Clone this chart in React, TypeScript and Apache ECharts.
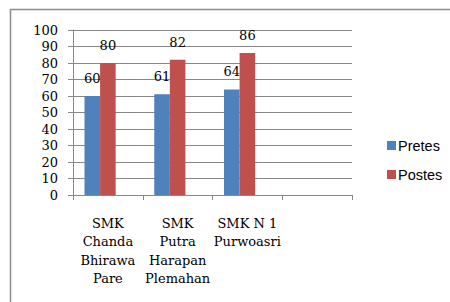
import React, { useEffect, useRef } from "react";
import * as echarts from "echarts";

const categories = ["SMK\nChanda\nBhirawa\nPare", "SMK\nPutra\nHarapan\nPlemahan", "SMK N 1\nPurwoasri", ""];
const pretes = [60, 61, 64, null];
const postes = [80, 82, 86, null];
const spare = [null, null, null, null];

export default function App() {
  const ref = useRef<HTMLDivElement>(null);
  useEffect(() => {
    const chart = echarts.init(ref.current!, null, { renderer: "svg" });
    const serif = "DejaVu Serif";
    chart.setOption({
      animation: false,
      backgroundColor: "#fff",
      graphic: [
        { type: "line", shape: { x1: 10, y1: 9.5, x2: 450, y2: 9.5 }, style: { stroke: "#8c8c8c", lineWidth: 1.5 } },
        { type: "line", shape: { x1: 10.5, y1: 9, x2: 10.5, y2: 302 }, style: { stroke: "#8c8c8c", lineWidth: 1.5 } },
      ],
      legend: {
        orient: "vertical",
        left: 382,
        top: 133,
        itemWidth: 9,
        itemHeight: 9,
        itemGap: 14,
        icon: "rect",
        data: ["Pretes", "Postes"],
        textStyle: { fontFamily: "Liberation Sans", fontSize: 14.5, color: "#000", padding: [0, 0, 0, -3] },
      },
      grid: { left: 73, right: 98, top: 30, bottom: 107 },
      xAxis: {
        type: "category",
        data: categories,
        axisLine: { lineStyle: { color: "#888", width: 1 } },
        axisTick: { show: true, length: 5, lineStyle: { color: "#888" } },
        axisLabel: { fontFamily: serif, fontSize: 13, color: "#000", lineHeight: 18.5, margin: 19, interval: 0 },
      },
      yAxis: {
        type: "value",
        min: 0,
        max: 100,
        interval: 10,
        axisLine: { show: true, lineStyle: { color: "#888" } },
        axisTick: { show: true, length: 5, lineStyle: { color: "#888" } },
        splitLine: { lineStyle: { color: "#888", width: 1 } },
        axisLabel: { fontFamily: serif, fontSize: 13, color: "#000", margin: 15 },
      },
      series: [
        {
          name: "Pretes",
          type: "bar",
          data: pretes,
          itemStyle: { color: "#4F81BD" },
          barGap: "0%",
          barCategoryGap: "33%",
          label: { show: true, position: "top", distance: 11, fontFamily: serif, fontSize: 13, color: "#000" },
        },
        {
          name: "Postes",
          type: "bar",
          data: postes,
          itemStyle: { color: "#C0504D" },
          label: { show: true, position: "top", distance: 11, fontFamily: serif, fontSize: 13, color: "#000" },
        },
        {
          name: "spare",
          type: "bar",
          data: spare,
        },
      ],
    });
    return () => chart.dispose();
  }, []);
  return (
    <div style={{ position: "absolute", left: 0, top: 0, width: 450, height: 302, background: "#fff" }}>
      <div ref={ref} style={{ width: 450, height: 302 }} />
    </div>
  );
}
